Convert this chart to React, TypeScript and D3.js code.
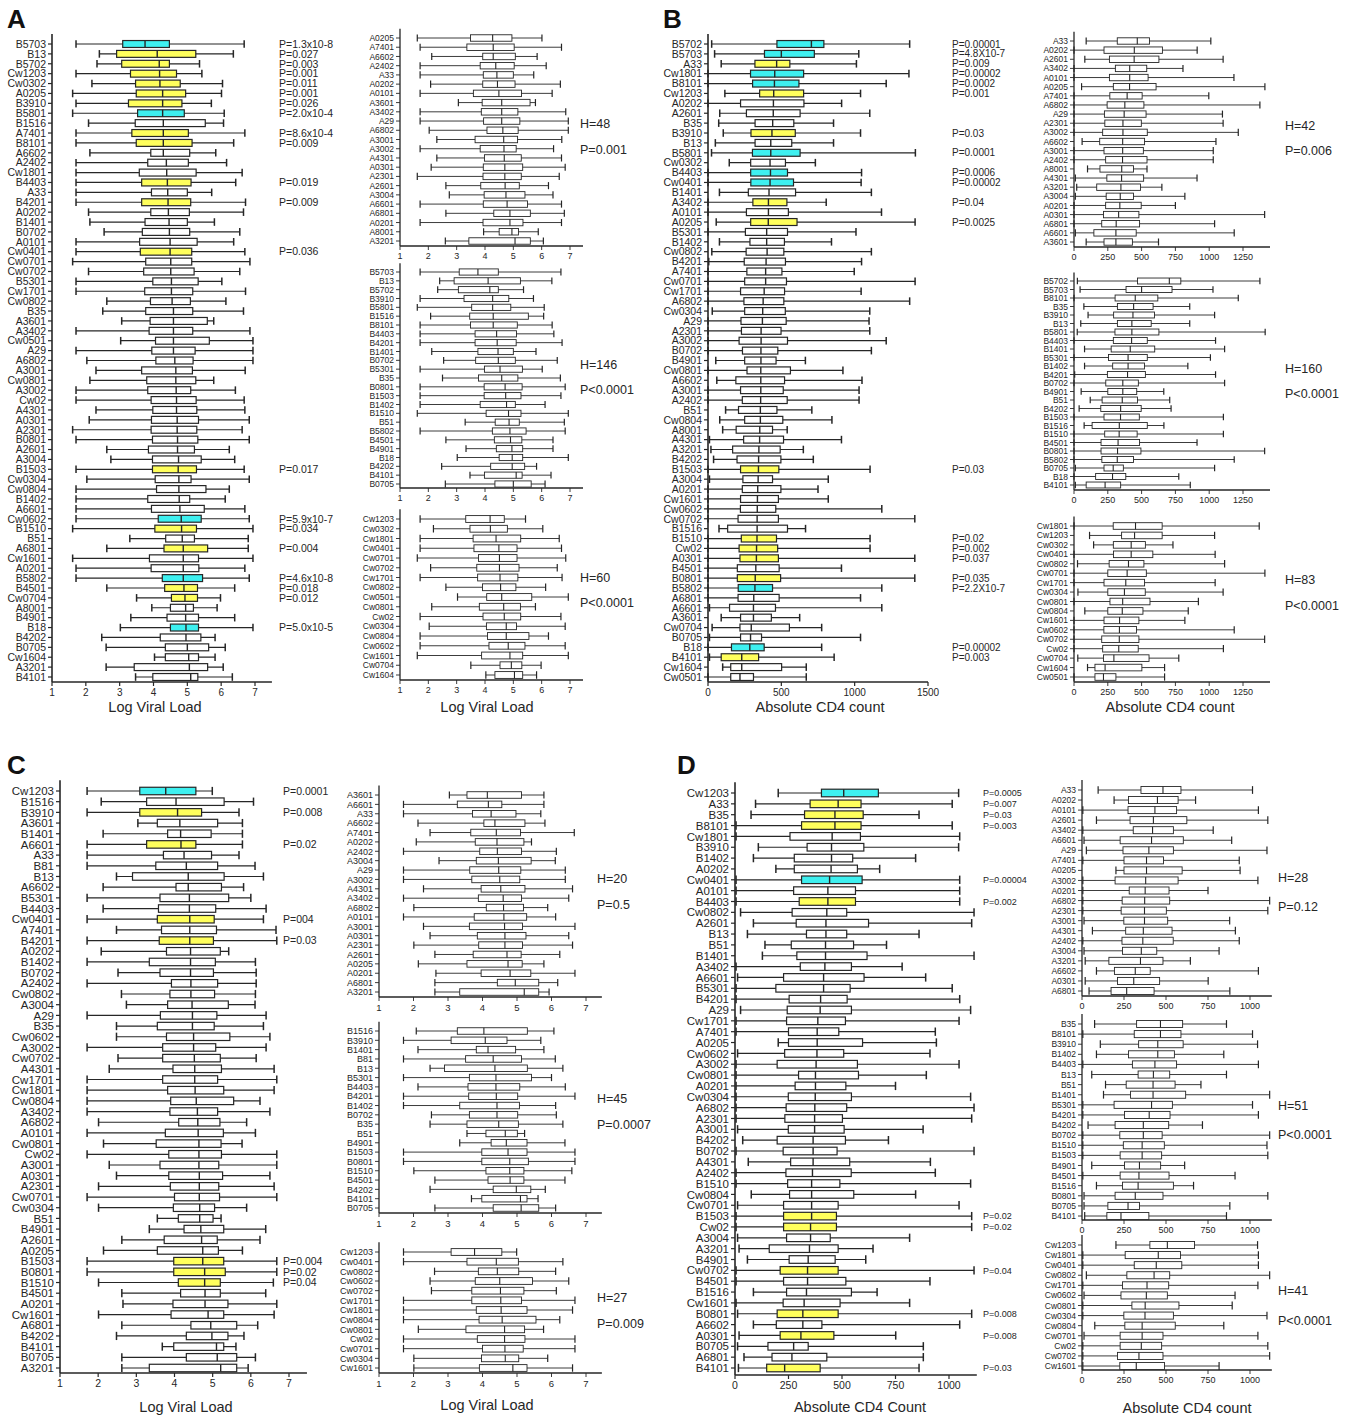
import React from 'react';
import * as d3 from 'd3';

// ---------- Panel A: log viral load, cohort 1 (min, q1, median, q3, max) ----------
const aAlleles = ['B5703','B13','B5702','Cw1203','Cw0302','A0205','B3910','B5801','B1516','A7401','B8101','A6602','A2402','Cw1801','B4403','A33','B4201','A0202','B1401','B0702','A0101','Cw0401','Cw0701','Cw0702','B5301','Cw1701','Cw0802','B35','A3601','A3402','Cw0501','A29','A6802','A3001','Cw0801','A3002','Cw02','A4301','A0301','A2301','B0801','A2601','A3004','B1503','Cw0304','Cw0804','B1402','A6601','Cw0602','B1510','B51','A6801','Cw1601','A0201','B5802','B4501','Cw0704','A8001','B4901','B18','B4202','B0705','Cw1604','A3201','B4101'];
const aStats = [
  [1.71,3.09,3.75,4.47,6.68],[2.40,2.91,4.11,5.25,6.36],[2.33,3.06,4.17,4.47,5.36],[1.71,3.32,4.18,4.68,5.43],
  [2.18,3.47,4.19,4.79,6.04],[1.61,3.49,4.27,4.95,6.01],[1.71,3.26,4.27,4.84,5.71],[1.61,3.53,4.27,4.91,6.09],
  [2.08,3.46,4.29,5.53,6.07],[1.71,3.36,4.29,5.03,6.70],[1.71,3.49,4.29,5.14,6.37],[2.12,3.92,4.29,5.07,5.84],
  [1.71,3.83,4.38,5.03,6.16],[1.71,3.58,4.39,5.26,6.62],[1.71,3.65,4.41,5.11,6.43],[1.71,3.94,4.42,5.00,5.72],
  [1.71,3.65,4.43,5.10,6.72],[2.08,3.92,4.44,5.06,6.66],[2.12,3.75,4.46,5.00,5.80],[2.54,3.67,4.47,5.07,6.55],
  [1.71,3.59,4.49,5.29,6.37],[1.71,3.61,4.49,5.13,6.70],[1.61,3.77,4.51,5.13,6.85],[2.08,3.71,4.51,5.20,6.55],
  [1.71,3.98,4.53,5.32,6.02],[1.71,3.74,4.53,5.16,6.72],[2.62,3.91,4.55,5.09,6.14],[2.50,3.77,4.59,5.16,6.66],
  [3.06,3.90,4.59,5.59,5.78],[1.71,3.87,4.59,5.16,6.85],[3.03,4.06,4.59,5.65,6.94],[1.71,3.95,4.59,5.23,6.94],
  [2.03,4.07,4.63,5.17,6.94],[2.30,3.65,4.66,5.15,6.71],[2.12,3.80,4.66,5.25,5.78],[1.71,3.83,4.67,5.10,6.42],
  [1.71,3.93,4.68,5.26,6.68],[2.30,3.98,4.68,5.28,6.70],[2.10,3.94,4.70,5.33,6.83],[1.61,3.93,4.70,5.28,6.62],
  [1.71,3.97,4.71,5.31,6.83],[2.62,3.85,4.71,5.21,6.24],[2.74,3.97,4.74,5.41,6.40],[1.71,3.97,4.73,5.27,6.68],
  [2.03,4.05,4.75,5.11,6.83],[1.71,4.09,4.75,5.55,6.24],[1.71,3.83,4.76,5.07,6.12],[1.71,3.94,4.78,5.50,6.70],
  [1.71,4.14,4.82,5.41,6.83],[1.61,4.04,4.83,5.27,6.94],[3.30,4.36,4.85,5.21,6.80],[2.62,4.31,4.88,5.60,6.80],
  [1.61,3.88,4.88,5.33,6.94],[1.71,3.93,4.88,5.34,6.70],[1.71,4.26,4.88,5.45,6.83],[2.62,4.33,4.90,5.30,6.40],
  [3.50,4.53,4.93,5.30,5.98],[3.95,4.50,4.95,5.18,5.88],[3.33,4.40,4.95,5.33,6.40],[3.02,4.50,4.96,5.33,6.94],
  [2.47,4.20,4.96,5.40,5.82],[2.60,4.35,5.00,5.63,6.12],[4.03,4.35,5.04,5.33,5.82],[2.60,3.43,5.06,5.60,6.06],
  [3.47,3.98,5.10,5.31,6.33],
];
const aCyan = ['B5703','B5801','Cw0602','B5802','B18'];
const aYellow = ['B13','B5702','Cw1203','Cw0302','A0205','B3910','A7401','B8101','B4403','B4201','Cw0401','B1503','B1510','A6801','B4501','Cw0704'];
const aPvals: [string, string][] = [
  ['B5703','P=1.3x10-8'],['B13','P=0.027'],['B5702','P=0.003'],['Cw1203','P=0.001'],['Cw0302','P=0.011'],
  ['A0205','P=0.001'],['B3910','P=0.026'],['B5801','P=2.0x10-4'],['A7401','P=8.6x10-4'],['B8101','P=0.009'],
  ['B4403','P=0.019'],['B4201','P=0.009'],['Cw0401','P=0.036'],['B1503','P=0.017'],['Cw0602','P=5.9x10-7'],
  ['B1510','P=0.034'],['A6801','P=0.004'],['B5802','P=4.6x10-8'],['B4501','P=0.018'],['Cw0704','P=0.012'],
  ['B18','P=5.0x10-5'],
];
const aSubB = ['B5703','B13','B5702','B3910','B5801','B1516','B8101','B4403','B4201','B1401','B0702','B5301','B35','B0801','B1503','B1402','B1510','B51','B5802','B4501','B4901','B18','B4202','B4101','B0705'];
const aKw = [['H=48','P=0.001'],['H=146','P<0.0001'],['H=60','P<0.0001']];

// ---------- Panel B: absolute CD4 count, cohort 1 ----------
const bAlleles = ['B5702','B5703','A33','Cw1801','B8101','Cw1203','A0202','A2601','B35','B3910','B13','B5801','Cw0302','B4403','Cw0401','B1401','A3402','A0101','A0205','B5301','B1402','Cw0802','B4201','A7401','Cw0701','Cw1701','A6802','Cw0304','A29','A2301','A3002','B0702','B4901','Cw0801','A6602','A3001','A2402','B51','Cw0804','A8001','A4301','A3201','B4202','B1503','A3004','A0201','Cw1601','Cw0602','Cw0702','B1516','B1510','Cw02','A0301','B4501','B0801','B5802','A6801','A6601','A3601','Cw0704','B0705','B18','B4101','Cw1604','Cw0501'];
const bStats = [
  [25,470,705,790,1375],[45,385,500,725,1028],[90,320,468,558,1012],[0,290,455,652,1370],[0,304,453,620,1215],
  [115,352,448,652,1040],[0,222,446,654,911],[80,262,445,628,1103],[73,321,441,585,856],[104,293,436,595,1040],
  [50,321,428,571,856],[24,303,428,628,1414],[145,291,423,528,732],[0,291,426,542,1047],[0,292,423,583,1044],
  [78,275,416,597,1114],[0,306,412,538,806],[0,262,412,548,1183],[56,291,411,607,1412],[0,255,400,542,1009],
  [78,286,400,521,842],[26,260,403,517,1114],[5,247,396,528,1047],[0,265,393,504,997],[0,250,393,535,1412],
  [0,222,383,522,1044],[0,245,376,517,1375],[29,250,373,527,1103],[0,225,371,533,1098],[0,228,362,498,1103],
  [0,212,362,542,1215],[0,235,361,476,1114],[53,250,361,464,664],[0,266,360,562,920],[60,190,360,522,1050],
  [0,222,360,513,1030],[0,234,359,540,1030],[120,208,357,470,708],[80,250,357,510,845],[100,192,353,440,540],
  [10,243,352,515,910],[20,168,347,492,650],[38,198,345,497,718],[0,222,344,483,1105],[10,238,342,440,820],
  [0,234,339,497,750],[0,222,337,480,820],[0,221,336,462,1185],[0,205,335,480,1410],[75,134,335,542,665],
  [0,227,334,467,1105],[0,212,331,475,1105],[0,218,330,480,1410],[0,200,326,485,910],[0,200,322,495,1410],
  [0,206,320,440,1185],[0,205,312,485,1040],[10,147,310,460,1185],[90,222,310,432,625],[28,218,295,555,775],
  [10,222,290,365,1040],[0,160,285,383,775],[10,90,230,345,860],[100,155,230,502,670],[0,155,218,310,670],
];
const bCyan = ['B5702','B5703','Cw1801','B8101','B5801','B4403','Cw0401','B5802','B18'];
const bYellow = ['A33','Cw1203','B3910','A3402','A0205','B1503','B1510','Cw02','A0301','B0801','B4101'];
const bPvals: [string, string][] = [
  ['B5702','P=0.00001'],['B5703','P=4.8X10-7'],['A33','P=0.009'],['Cw1801','P=0.00002'],['B8101','P=0.0002'],
  ['Cw1203','P=0.001'],['B3910','P=0.03'],['B5801','P=0.0001'],['B4403','P=0.0006'],['Cw0401','P=0.00002'],
  ['A3402','P=0.04'],['A0205','P=0.0025'],['B1503','P=0.03'],['B1510','P=0.02'],['Cw02','P=0.002'],
  ['A0301','P=0.037'],['B0801','P=0.035'],['B5802','P=2.2X10-7'],['B18','P=0.00002'],['B4101','P=0.003'],
];
const bKw = [['H=42','P=0.006'],['H=160','P<0.0001'],['H=83','P<0.0001']];

// ---------- Panel C: log viral load, cohort 2 ----------
const cAlleles = ['Cw1203','B1516','B3910','A3601','B1401','A6601','A33','B81','B13','A6602','B5301','B4403','Cw0401','A7401','B4201','A0202','B1402','B0702','A2402','Cw0802','A3004','A29','B35','Cw0602','A3002','Cw0702','A4301','Cw1701','Cw1801','Cw0804','A3402','A6802','A0101','Cw0801','Cw02','A3001','A0301','A2301','Cw0701','Cw0304','B51','B4901','A2601','A0205','B1503','B0801','B1510','B4501','A0201','Cw1601','A6801','B4202','B4101','B0705','A3201'];
const cStats = [
  [1.71,3.09,3.77,4.56,4.99],[2.08,3.27,4.04,5.30,6.07],[1.71,3.09,4.08,4.71,5.69],[3.04,3.55,4.14,5.13,5.78],
  [2.13,3.82,4.16,4.96,5.78],[1.71,3.27,4.17,4.56,5.78],[1.71,3.71,4.25,4.97,5.69],[1.71,3.51,4.31,5.13,6.11],
  [2.48,2.90,4.36,5.30,6.33],[2.13,4.04,4.36,5.23,5.81],[1.71,3.62,4.39,5.42,6.00],[2.13,3.58,4.39,5.08,6.40],
  [1.71,3.55,4.40,5.04,6.33],[2.48,3.66,4.40,5.10,6.66],[1.71,3.60,4.40,5.02,6.68],[2.08,3.79,4.42,5.20,5.42],
  [1.71,3.34,4.42,5.07,6.12],[2.52,3.62,4.42,5.02,6.14],[1.71,3.92,4.43,5.13,6.14],[2.61,3.88,4.43,5.05,6.12],
  [2.74,3.82,4.46,5.41,6.11],[1.71,3.63,4.47,5.11,6.40],[2.48,3.55,4.47,5.04,6.33],[2.48,3.79,4.50,5.45,6.50],
  [1.71,3.69,4.50,5.08,6.40],[2.52,3.69,4.52,5.20,6.14],[2.29,3.96,4.53,5.23,6.61],[1.71,3.69,4.53,5.13,6.68],
  [1.71,3.82,4.54,5.29,6.61],[1.71,3.90,4.57,5.55,6.24],[1.71,3.88,4.60,5.13,6.50],[2.01,4.11,4.61,5.19,5.89],
  [1.71,3.76,4.62,5.28,6.12],[2.14,3.52,4.64,5.22,5.77],[1.71,3.85,4.64,5.23,6.68],[2.29,3.62,4.64,5.16,6.68],
  [2.48,3.85,4.65,5.26,6.50],[2.01,3.89,4.65,5.16,6.61],[1.71,4.00,4.65,5.18,6.68],[2.01,3.97,4.66,5.05,5.89],
  [3.55,4.10,4.66,5.01,5.22],[3.34,4.25,4.69,5.29,6.39],[2.62,3.73,4.71,5.12,6.24],[2.14,3.55,4.74,5.15,5.78],
  [1.71,3.98,4.74,5.29,6.68],[1.71,3.98,4.79,5.33,6.68],[2.01,4.10,4.79,5.20,6.59],[2.62,4.16,4.80,5.20,6.39],
  [2.65,3.96,4.80,5.40,6.68],[2.01,3.91,4.88,5.29,6.61],[2.62,4.43,4.95,5.63,6.18],[2.48,4.31,4.98,5.40,5.82],
  [3.68,3.98,5.10,5.29,5.61],[2.62,4.31,5.12,5.63,6.12],[2.62,3.34,5.21,5.63,5.93],
];
const cCyan = ['Cw1203'];
const cYellow = ['B3910','A6601','Cw0401','B4201','B1503','B0801','B1510'];
const cPvals: [string, string][] = [
  ['Cw1203','P=0.0001'],['B3910','P=0.008'],['A6601','P=0.02'],['Cw0401','P=004'],['B4201','P=0.03'],
  ['B1503','P=0.004'],['B0801','P=0.02'],['B1510','P=0.04'],
];
const cKw = [['H=20','P=0.5'],['H=45','P=0.0007'],['H=27','P=0.009']];

// ---------- Panel D: absolute CD4 count, cohort 2 ----------
const dAlleles = ['Cw1203','A33','B35','B8101','Cw1801','B3910','B1402','A0202','Cw0401','A0101','B4403','Cw0802','A2601','B13','B51','B1401','A3402','A6601','B5301','B4201','A29','Cw1701','A7401','A0205','Cw0602','A3002','Cw0801','A0201','Cw0304','A6802','A2301','A3001','B4202','B0702','A4301','A2402','B1510','Cw0804','Cw0701','B1503','Cw02','A3004','A3201','B4901','Cw0702','B4501','B1516','Cw1601','B0801','A6602','A0301','B0705','A6801','B4101'];
const dStats = [
  [202,404,508,670,1045],[96,351,482,589,1015],[75,325,467,599,860],[5,311,467,589,1015],[5,257,454,586,1050],
  [109,337,451,602,1045],[86,277,451,550,844],[191,277,449,572,676],[5,311,442,594,1050],[5,274,434,563,1050],
  [5,300,434,563,1050],[26,267,429,522,1117],[86,286,425,624,1106],[58,334,425,522,860],[140,263,423,554,708],
  [128,289,423,617,1117],[5,305,420,544,781],[12,227,414,603,891],[5,191,414,538,1015],[5,253,400,524,1050],
  [26,244,398,544,1101],[5,241,387,516,1047],[5,250,384,485,936],[202,250,384,596,941],[12,232,383,508,911],
  [5,197,379,572,1047],[5,297,376,577,894],[5,281,376,518,750],[5,249,375,544,1101],[5,239,373,522,1117],
  [5,233,372,502,1106],[12,249,372,510,879],[36,197,365,516,717],[5,225,365,477,1117],[62,260,365,536,913],
  [5,238,362,543,936],[5,246,358,490,1101],[76,255,358,555,844],[12,227,358,482,1047],[5,227,358,474,1106],
  [5,227,353,474,1106],[12,241,353,445,816],[19,160,348,482,645],[58,253,342,468,611],[5,211,339,482,1117],
  [5,227,339,518,911],[86,241,334,544,664],[5,225,323,491,816],[12,197,317,482,1106],[86,193,317,406,1050],
  [19,211,308,462,751],[12,154,274,342,880],[42,173,266,429,880],[16,148,232,398,860],
];
const dCyan = ['Cw1203','Cw0401'];
const dYellow = ['A33','B35','B8101','B4403','B1503','Cw02','Cw0702','B0801','A0301','B4101'];
const dPvals: [string, string][] = [
  ['Cw1203','P=0.0005'],['A33','P=0.007'],['B35','P=0.03'],['B8101','P=0.003'],['Cw0401','P=0.00004'],
  ['B4403','P=0.002'],['B1503','P=0.02'],['Cw02','P=0.02'],['Cw0702','P=0.04'],['B0801','P=0.008'],
  ['A0301','P=0.008'],['B4101','P=0.03'],
];
const dKw = [['H=28','P=0.12'],['H=51','P<0.0001'],['H=41','P<0.0001']];

const vlTicks = [1, 2, 3, 4, 5, 6, 7];

const FONT = '"Liberation Sans", Arial, Helvetica, sans-serif';
const INK = '#262626';
const CYAN = '#3ef0f0';
const YELLOW = '#ffff5c';

const toMap = (names: string[], stats: number[][]) => new Map(names.map((n, i) => [n, stats[i]]));
const locus = (names: string[], l: string) =>
  names.filter(n => (l === 'Cw' ? n.startsWith('Cw') : n[0] === l && !n.startsWith('Cw')));

type PlotProps = {
  names: string[];
  stats: Map<string, number[]>;
  cyan?: string[];
  yellow?: string[];
  domain: [number, number];
  left: number;
  right: number;
  axisMax: number;
  top: number;
  bottom: number;
  axisY: number;
  ticks: number[];
  font: number;
  tickFont: number;
  pvals?: [string, string][];
  pX?: number;
  pFont?: number;
};

function BoxPlot(p: PlotProps) {
  const x = d3.scaleLinear().domain(p.domain).range([p.left, p.right]);
  const y = d3.scalePoint<string>().domain(p.names).range([p.top, p.bottom]);
  const step = y.step();
  const bh = step * 0.7;
  const cap = bh * 0.55;
  const sw = p.font > 9.5 ? 1.2 : 0.9;
  const pmap = new Map(p.pvals || []);
  const fillOf = (n: string) =>
    (p.cyan || []).includes(n) ? CYAN : (p.yellow || []).includes(n) ? YELLOW : '#fff';
  return (
    <g fontFamily={FONT} fill={INK}>
      <line x1={p.left} x2={p.left} y1={p.top - step} y2={p.axisY} stroke={INK} strokeWidth={sw + 0.4} />
      <line x1={p.left} x2={x(p.axisMax)} y1={p.axisY} y2={p.axisY} stroke={INK} strokeWidth={sw + 0.4} />
      {p.ticks.map(t => (
        <g key={t}>
          <line x1={x(t)} x2={x(t)} y1={p.axisY} y2={p.axisY + 4} stroke={INK} strokeWidth={sw} />
          <text x={x(t)} y={p.axisY + 5 + p.tickFont * 0.9} fontSize={p.tickFont} textAnchor="middle">
            {t}
          </text>
        </g>
      ))}
      {p.names.map(n => {
        const s = p.stats.get(n)!;
        const cy = y(n)!;
        return (
          <g key={n}>
            <line x1={p.left - 4} x2={p.left} y1={cy} y2={cy} stroke={INK} strokeWidth={sw} />
            <text x={p.left - 6} y={cy} dy="0.36em" fontSize={p.font} textAnchor="end">
              {n}
            </text>
            <line x1={x(s[0])} x2={x(s[4])} y1={cy} y2={cy} stroke={INK} strokeWidth={sw} />
            <line x1={x(s[0])} x2={x(s[0])} y1={cy - cap} y2={cy + cap} stroke={INK} strokeWidth={sw + 0.3} />
            <line x1={x(s[4])} x2={x(s[4])} y1={cy - cap} y2={cy + cap} stroke={INK} strokeWidth={sw + 0.3} />
            <rect
              x={x(s[1])}
              y={cy - bh / 2}
              width={x(s[3]) - x(s[1])}
              height={bh}
              fill={fillOf(n)}
              stroke={INK}
              strokeWidth={sw}
            />
            <line x1={x(s[2])} x2={x(s[2])} y1={cy - bh / 2} y2={cy + bh / 2} stroke={INK} strokeWidth={sw + 0.2} />
            {pmap.has(n) && (
              <text x={p.pX} y={cy} dy="0.36em" fontSize={p.pFont}>
                {pmap.get(n)}
              </text>
            )}
          </g>
        );
      })}
    </g>
  );
}

function Kw({ x, ys, lines }: { x: number; ys: number[]; lines: string[][] }) {
  return (
    <g fontFamily={FONT} fontSize={12.5} fill={INK}>
      {lines.map((l, i) => (
        <g key={i}>
          <text x={x} y={ys[i * 2]} dy="0.36em">{l[0]}</text>
          <text x={x} y={ys[i * 2 + 1]} dy="0.36em">{l[1]}</text>
        </g>
      ))}
    </g>
  );
}

const Title = ({ x, y, t }: { x: number; y: number; t: string }) => (
  <text x={x} y={y} fontFamily={FONT} fontSize={14.5} textAnchor="middle" fill={INK}>
    {t}
  </text>
);

export default function App() {
  const aMap = toMap(aAlleles, aStats);
  const bMap = toMap(bAlleles, bStats);
  const cMap = toMap(cAlleles, cStats);
  const dMap = toMap(dAlleles, dStats);
  const cd4Sub = [0, 250, 500, 750, 1000, 1250];
  const cd4D = [0, 250, 500, 750, 1000];
  return (
    <svg
      width={1352}
      height={1417}
      style={{ position: 'absolute', left: 0, top: 0, background: '#fff' }}
    >
      <rect width={1352} height={1417} fill="#fff" />
      <g fontFamily={FONT} fontWeight="bold" fontSize={26} fill="#111">
        <text x={7} y={28}>A</text>
        <text x={663} y={28}>B</text>
        <text x={7} y={774}>C</text>
        <text x={677} y={774}>D</text>
      </g>

      {/* Panel A */}
      <BoxPlot names={aAlleles} stats={aMap} cyan={aCyan} yellow={aYellow} domain={[1, 7]} left={52} right={255}
        axisMax={7.5} top={44} bottom={677} axisY={682} ticks={vlTicks} font={10.5} tickFont={10}
        pvals={aPvals} pX={279} pFont={10.5} />
      <Title x={155} y={712} t="Log Viral Load" />
      <BoxPlot names={locus(aAlleles, 'A')} stats={aMap} domain={[1, 7]} left={400} right={570} axisMax={7.46}
        top={38} bottom={241} axisY={246} ticks={vlTicks} font={8.5} tickFont={9} />
      <BoxPlot names={aSubB} stats={aMap} domain={[1, 7]} left={400} right={570} axisMax={7.46}
        top={272} bottom={484} axisY={488} ticks={vlTicks} font={8.5} tickFont={9} />
      <BoxPlot names={locus(aAlleles, 'Cw')} stats={aMap} domain={[1, 7]} left={400} right={570} axisMax={7.46}
        top={519} bottom={675} axisY={680} ticks={vlTicks} font={8.5} tickFont={9} />
      <Title x={487} y={712} t="Log Viral Load" />
      <Kw x={580} ys={[123, 149, 364, 389, 577, 602]} lines={aKw} />

      {/* Panel B */}
      <BoxPlot names={bAlleles} stats={bMap} cyan={bCyan} yellow={bYellow} domain={[0, 1500]} left={708} right={928}
        axisMax={1500} top={44} bottom={677} axisY={682} ticks={[0, 500, 1000, 1500]} font={10.5} tickFont={10}
        pvals={bPvals} pX={952} pFont={10} />
      <Title x={820} y={712} t="Absolute CD4 count" />
      <BoxPlot names={locus(bAlleles, 'A')} stats={bMap} domain={[0, 1250]} left={1074} right={1243} axisMax={1450}
        top={41} bottom={242} axisY={247} ticks={cd4Sub} font={8.5} tickFont={9} />
      <BoxPlot names={locus(bAlleles, 'B')} stats={bMap} domain={[0, 1250]} left={1074} right={1243} axisMax={1450}
        top={281} bottom={485} axisY={490} ticks={cd4Sub} font={8.5} tickFont={9} />
      <BoxPlot names={locus(bAlleles, 'Cw')} stats={bMap} domain={[0, 1250]} left={1074} right={1243} axisMax={1450}
        top={526} bottom={677} axisY={682} ticks={cd4Sub} font={8.5} tickFont={9} />
      <Title x={1170} y={712} t="Absolute CD4 count" />
      <Kw x={1285} ys={[125, 150, 368, 393, 579, 605]} lines={bKw} />

      {/* Panel C */}
      <BoxPlot names={cAlleles} stats={cMap} cyan={cCyan} yellow={cYellow} domain={[1, 7]} left={60} right={289}
        axisMax={7.47} top={791} bottom={1368} axisY={1373} ticks={vlTicks} font={11.5} tickFont={10.5}
        pvals={cPvals} pX={283} pFont={10.5} />
      <Title x={186} y={1412} t="Log Viral Load" />
      <BoxPlot names={locus(cAlleles, 'A')} stats={cMap} domain={[1, 7]} left={379} right={586} axisMax={7.46}
        top={795} bottom={992} axisY={997} ticks={vlTicks} font={9} tickFont={9.5} />
      <BoxPlot names={locus(cAlleles, 'B')} stats={cMap} domain={[1, 7]} left={379} right={586} axisMax={7.46}
        top={1031} bottom={1208} axisY={1213} ticks={vlTicks} font={9} tickFont={9.5} />
      <BoxPlot names={locus(cAlleles, 'Cw')} stats={cMap} domain={[1, 7]} left={379} right={586} axisMax={7.46}
        top={1252} bottom={1368} axisY={1373} ticks={vlTicks} font={9} tickFont={9.5} />
      <Title x={487} y={1410} t="Log Viral Load" />
      <Kw x={597} ys={[878, 904, 1098, 1124, 1297, 1323]} lines={cKw} />

      {/* Panel D */}
      <BoxPlot names={dAlleles} stats={dMap} cyan={dCyan} yellow={dYellow} domain={[0, 1000]} left={735} right={949}
        axisMax={1130} top={793} bottom={1368} axisY={1375} ticks={cd4D} font={11.5} tickFont={10.5}
        pvals={dPvals} pX={983} pFont={9} />
      <Title x={860} y={1412} t="Absolute CD4 Count" />
      <BoxPlot names={locus(dAlleles, 'A')} stats={dMap} domain={[0, 1000]} left={1082} right={1250} axisMax={1130}
        top={790} bottom={991} axisY={996} ticks={cd4D} font={8.5} tickFont={9} />
      <BoxPlot names={locus(dAlleles, 'B')} stats={dMap} domain={[0, 1000]} left={1082} right={1250} axisMax={1130}
        top={1024} bottom={1216} axisY={1220} ticks={cd4D} font={8.5} tickFont={9} />
      <BoxPlot names={locus(dAlleles, 'Cw')} stats={dMap} domain={[0, 1000]} left={1082} right={1250} axisMax={1130}
        top={1245} bottom={1366} axisY={1370} ticks={cd4D} font={8.5} tickFont={9} />
      <Title x={1187} y={1413} t="Absolute CD4 count" />
      <Kw x={1278} ys={[877, 906, 1105, 1134, 1290, 1320]} lines={dKw} />
    </svg>
  );
}
